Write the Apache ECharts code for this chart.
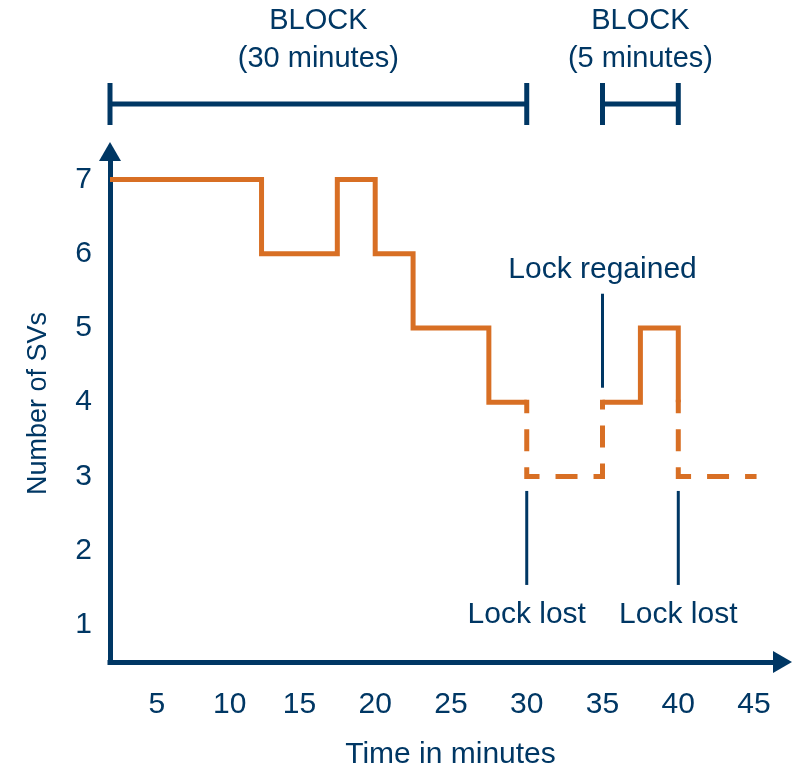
<!DOCTYPE html>
<html>
<head>
<meta charset="utf-8">
<title>Number of SVs over time</title>
<script src="https://cdn.jsdelivr.net/npm/echarts@6/dist/echarts.min.js"></script>
<style>
  html, body { margin: 0; padding: 0; background: #fff; }
  #chart { width: 793px; height: 775px; }
</style>
</head>
<body>
<div id="chart"></div>
<script>
// SVs tracked while the receiver keeps lock, as [minute, SVs] step changes
const trackedBeforeLoss = [[2.5, 7], [12.5, 6], [17.5, 7], [20, 6], [22.5, 5], [27.5, 4], [30, 4]];
const trackedAfterRegain = [[35, 4], [37.5, 5], [40, 4]];
// count shown dashed while lock is lost
const lostPeriod1 = [[30, 4], [30, 3], [35, 3], [35, 4]];
const lostPeriod2 = [[40, 4], [40, 3], [45, 3]];

const xTickLabels = [5, 10, 15, 20, 25, 30, 35, 40, 45];
const yTickLabels = [1, 2, 3, 4, 5, 6, 7];

const blockStarts = [2.5, 35];
const blockEnds = [30, 40];
const blockNames = ['BLOCK\n(30 minutes)', 'BLOCK\n(5 minutes)'];

const lockTimes = [30, 35, 40];
const lockLevels = [3, 4, 3];
const lockNames = ['Lock lost', 'Lock regained', 'Lock lost'];

const NAVY = '#003764';
const ORANGE = '#D86F24';
const FONT = '"Liberation Sans", Arial, sans-serif';

const chart = echarts.init(document.getElementById('chart'), null, { renderer: 'canvas' });

function renderBlock(params, api) {
  const x0 = api.coord([api.value(0), 1])[0];
  const x1 = api.coord([api.value(1), 1])[0];
  const y = 104;
  const st = { stroke: NAVY, lineWidth: 5 };
  return {
    type: 'group',
    children: [
      { type: 'line', shape: { x1: x0, y1: y, x2: x1, y2: y }, style: st },
      { type: 'line', shape: { x1: x0, y1: y - 21, x2: x0, y2: y + 21 }, style: st },
      { type: 'line', shape: { x1: x1, y1: y - 21, x2: x1, y2: y + 21 }, style: st },
      {
        type: 'text',
        x: (x0 + x1) / 2,
        y: 40,
        style: {
          text: blockNames[params.dataIndex],
          fill: NAVY,
          fontSize: 29,
          fontFamily: FONT,
          lineHeight: 38,
          align: 'center',
          verticalAlign: 'middle'
        }
      }
    ]
  };
}

function renderLock(params, api) {
  const pt = api.coord([api.value(0), api.value(1)]);
  const lost = lockNames[params.dataIndex] === 'Lock lost';
  const dir = lost ? 1 : -1;
  const start = pt[1] + dir * 14.5;
  const end = start + dir * 94;
  const textY = end + dir * (lost ? 30 : 24);
  return {
    type: 'group',
    children: [
      { type: 'line', shape: { x1: pt[0], y1: start, x2: pt[0], y2: end }, style: { stroke: NAVY, lineWidth: 3 } },
      {
        type: 'text',
        x: pt[0],
        y: textY,
        style: {
          text: lockNames[params.dataIndex],
          fill: NAVY,
          fontSize: 30,
          fontFamily: FONT,
          align: 'center',
          verticalAlign: 'middle'
        }
      }
    ]
  };
}

const solidStyle = { color: ORANGE, width: 5, join: 'miter', cap: 'butt' };
const dashedStyle = { color: ORANGE, width: 5, join: 'miter', cap: 'square', type: [17, 21], dashOffset: 8.5 };

const option = {
  animation: false,
  backgroundColor: '#fff',
  grid: { left: 110, right: 20, top: 161, bottom: 104, containLabel: false },
  xAxis: {
    type: 'value',
    min: 2.5,
    max: 46.25,
    name: 'Time in minutes',
    nameLocation: 'middle',
    nameGap: 78,
    nameTextStyle: { color: NAVY, fontSize: 30, fontFamily: FONT, padding: [0, 0, 0, 18] },
    axisLine: {
      show: true,
      symbol: ['none', 'triangle'],
      symbolSize: [22, 19],
      symbolOffset: [0, 9.5],
      lineStyle: { color: NAVY, width: 5, cap: 'square' }
    },
    axisTick: { show: false },
    splitLine: { show: false },
    axisLabel: {
      customValues: xTickLabels,
      margin: 28,
      color: NAVY,
      fontSize: 30,
      fontFamily: FONT,
      formatter: function (v) {
        if (v === 5) return '{a|5}';
        if (v === 10) return '{b|10}';
        return String(v);
      },
      rich: {
        a: { color: NAVY, fontSize: 30, fontFamily: FONT, padding: [0, 0, 0, 18] },
        b: { color: NAVY, fontSize: 30, fontFamily: FONT, padding: [0, 0, 0, 12] }
      }
    }
  },
  yAxis: {
    type: 'value',
    min: 0.5,
    max: 7.25,
    name: 'Number of SVs',
    nameLocation: 'middle',
    nameGap: 58,
    nameRotate: 90,
    nameTextStyle: { color: NAVY, fontSize: 27, fontFamily: FONT, padding: [0, 0, 0, 16] },
    axisLine: {
      show: true,
      symbol: ['none', 'triangle'],
      symbolSize: [22, 19],
      symbolOffset: [0, 9.5],
      lineStyle: { color: NAVY, width: 5, cap: 'square' }
    },
    axisTick: { show: false },
    splitLine: { show: false },
    axisLabel: {
      customValues: yTickLabels,
      margin: 18,
      color: NAVY,
      fontSize: 30,
      fontFamily: FONT,
      padding: [7, 0, 0, 0]
    }
  },
  series: [
    {
      type: 'line',
      data: trackedBeforeLoss,
      step: 'end',
      symbol: 'none',
      silent: true,
      lineStyle: solidStyle,
      z: 3
    },
    {
      type: 'line',
      data: trackedAfterRegain,
      step: 'end',
      symbol: 'none',
      silent: true,
      lineStyle: solidStyle,
      z: 3
    },
    {
      type: 'line',
      data: lostPeriod1,
      symbol: 'none',
      silent: true,
      lineStyle: dashedStyle,
      z: 3
    },
    {
      type: 'line',
      data: lostPeriod2,
      symbol: 'none',
      silent: true,
      lineStyle: dashedStyle,
      z: 3
    },
    {
      type: 'custom',
      silent: true,
      clip: false,
      renderItem: renderBlock,
      encode: { x: [0, 1] },
      data: blockStarts.map((s, i) => [s, blockEnds[i]])
    },
    {
      type: 'custom',
      silent: true,
      clip: false,
      renderItem: renderLock,
      encode: { x: 0, y: 1 },
      data: lockTimes.map((t, i) => [t, lockLevels[i]])
    }
  ]
};

chart.setOption(option);
window.addEventListener('resize', () => chart.resize());
</script>
</body>
</html>
